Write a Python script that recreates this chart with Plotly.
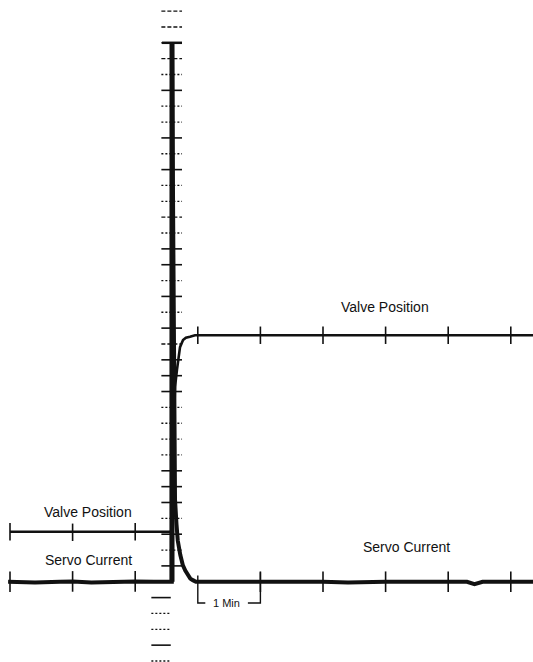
import plotly.graph_objects as go

# ---- data (time in chart minutes, level in chart divisions) ----
servo_t = [-0.03, 0.4, 0.8, 1.0, 1.3, 1.6, 2.0, 2.3, 2.585, 2.588, 2.60, 2.615, 2.636, 2.66, 2.68, 2.72,
           2.76, 2.80, 2.84, 2.88, 2.92, 2.97, 3.2, 3.6, 4.0, 4.4, 4.8, 5.0, 5.4, 5.8, 6.0, 6.4, 6.8,
           7.0, 7.3, 7.42, 7.55, 8.0, 8.36]
servo_v = [5.0, 4.95, 5.0, 5.02, 4.95, 5.0, 5.02, 5.0, 5.0, 39.0, 30.0, 15.0, 10.2, 8.6, 7.6, 6.7,
           6.06, 5.7, 5.4, 5.2, 5.1, 5.0, 5.0, 5.0, 5.0, 5.05, 5.0, 5.0, 4.95, 5.02, 5.0, 5.0, 5.02,
           5.0, 5.0, 4.85, 5.0, 5.0, 5.0]

valve_t = [0.0, 0.5, 1.0, 1.5, 2.0, 2.4, 2.588, 2.60, 2.62, 2.636, 2.668, 2.716, 2.764, 2.81, 2.875,
           2.955, 3.0, 3.5, 4.0, 4.5, 5.0, 6.0, 7.0, 8.0, 8.36]
valve_v = [8.15, 8.15, 8.12, 8.15, 8.15, 8.12, 8.15, 12.0, 15.0, 17.3, 18.4, 19.8, 20.25, 20.4, 20.45,
           20.55, 20.55, 20.57, 20.55, 20.55, 20.55, 20.55, 20.55, 20.55, 20.55]

event_t = 2.588          # time of the step (vertical recorder line)
span_top = 39.0          # top of vertical line
span_bottom = 5.0        # bottom of vertical line

scale_levels = list(range(0, 42))
scale_solid = [1, 4, 6, 8, 10, 11, 12, 17, 18, 19, 21, 23, 25, 26, 31, 33, 36, 39]
scale_dash = [20, 28, 38, 40, 41]

valve_ticks = [0, 1, 2, 3, 4, 5, 6, 7, 8]
servo_ticks = [0, 1, 2, 4, 5, 6, 7, 8]

bracket_start, bracket_end = 3, 4
bracket_level = 3.66

labels = [
    ("Valve Position", 5.99, 22.33),
    ("Valve Position", 1.25, 9.4),
    ("Servo Current", 1.26, 6.37),
    ("Servo Current", 6.34, 7.19),
    ("1 Min", 3.46, 3.66),
]

INK = "#111111"

fig = go.Figure()

# vertical scale ticks
def seg_trace(levels, dash, width):
    xs, ys = [], []
    for lv in levels:
        if lv >= span_bottom:
            x0, x1 = event_t - 0.17, event_t + 0.16
        else:
            x0, x1 = event_t - 0.33, event_t - 0.02
        xs += [x0, x1, None]
        ys += [lv, lv, None]
    return go.Scatter(x=xs, y=ys, mode="lines", line=dict(color=INK, width=width, dash=dash),
                      hoverinfo="skip", showlegend=False)

dot_levels = [l for l in scale_levels if l not in scale_solid and l not in scale_dash and l != span_bottom]
fig.add_trace(seg_trace(scale_solid, "solid", 1.6))
fig.add_trace(seg_trace(scale_dash, "4px,2px", 1.4))
fig.add_trace(seg_trace(dot_levels, "2px,2px", 1.3))

# vertical recorder line
fig.add_trace(go.Scatter(x=[event_t, event_t], y=[span_bottom, span_top], mode="lines",
                         line=dict(color=INK, width=5), hoverinfo="skip", showlegend=False))
# cap
fig.add_trace(go.Scatter(x=[event_t - 0.16, event_t + 0.16], y=[span_top, span_top], mode="lines",
                         line=dict(color=INK, width=2.5), hoverinfo="skip", showlegend=False))

# minute tick marks on traces
def tick_trace(ticks, series_t, series_v, h):
    xs, ys = [], []
    for t in ticks:
        idx = min(range(len(series_t)), key=lambda i: abs(series_t[i] - t))
        lv = series_v[idx]
        xs += [t, t, None]
        ys += [lv - h, lv + h, None]
    return go.Scatter(x=xs, y=ys, mode="lines", line=dict(color=INK, width=1.6),
                      hoverinfo="skip", showlegend=False)

fig.add_trace(tick_trace(valve_ticks, valve_t, valve_v, 0.55))
fig.add_trace(tick_trace(servo_ticks, servo_t, servo_v, 0.65))

# series
fig.add_trace(go.Scatter(x=valve_t, y=valve_v, mode="lines", line=dict(color=INK, width=2.6),
                         name="Valve Position", showlegend=False))
fig.add_trace(go.Scatter(x=servo_t, y=servo_v, mode="lines", line=dict(color=INK, width=4),
                         name="Servo Current", showlegend=False))

# 1 Min bracket
fig.add_trace(go.Scatter(
    x=[bracket_start, bracket_start, bracket_start + 0.12, None,
       bracket_end - 0.2, bracket_end, bracket_end],
    y=[span_bottom + 0.4, bracket_level, bracket_level, None,
       bracket_level, bracket_level, span_bottom + 0.6],
    mode="lines", line=dict(color=INK, width=1.4), hoverinfo="skip", showlegend=False))

for text, x, y in labels:
    fig.add_annotation(x=x, y=y, text=text, showarrow=False,
                       font=dict(family="Liberation Sans, Arial", size=14 if text != "1 Min" else 11,
                                 color=INK),
                       xanchor="center", yanchor="middle")

fig.update_layout(
    width=533, height=662, autosize=False,
    margin=dict(l=0, r=0, t=0, b=0),
    paper_bgcolor="white", plot_bgcolor="white",
    xaxis=dict(range=[-0.1597, 8.3546], visible=False, fixedrange=True),
    yaxis=dict(range=[-0.063, 41.70], visible=False, fixedrange=True),
)

fig.write_html("out.html", config={"displayModeBar": False},
               post_script="document.body.style.margin='0';")
